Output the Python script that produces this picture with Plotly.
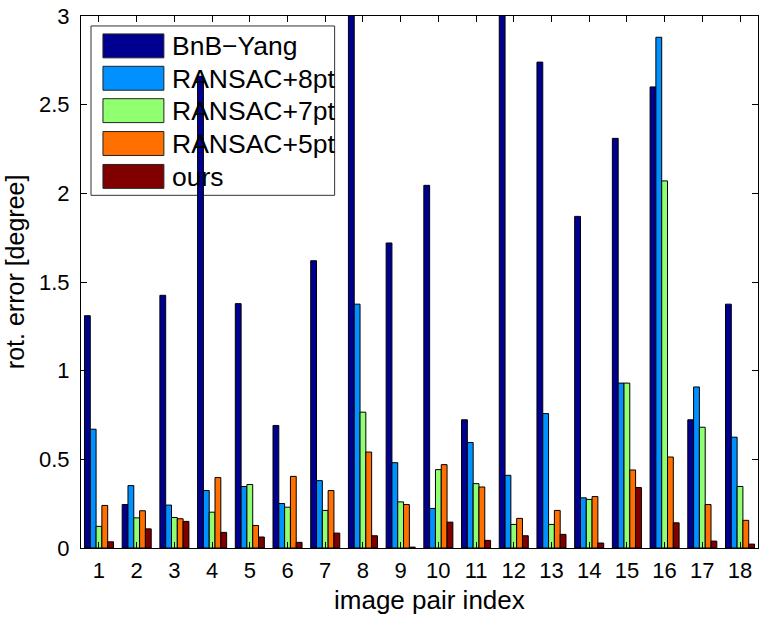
import plotly.graph_objects as go

pairs = list(range(1, 19))
series_names = ["BnB\u2212Yang", "RANSAC+8pt", "RANSAC+7pt", "RANSAC+5pt", "ours"]
bnb_yang = [1.31, 0.245, 1.425, 2.66, 1.378, 0.691, 1.62, 3.6, 1.72, 2.045, 0.723, 3.6, 2.74, 1.87, 2.31, 2.60, 0.723, 1.375]
ransac_8pt = [0.67, 0.352, 0.242, 0.324, 0.347, 0.251, 0.38, 1.375, 0.481, 0.223, 0.595, 0.41, 0.758, 0.283, 0.93, 2.88, 0.908, 0.625]
ransac_7pt = [0.122, 0.17, 0.172, 0.202, 0.358, 0.23, 0.212, 0.766, 0.26, 0.442, 0.363, 0.133, 0.133, 0.274, 0.93, 2.07, 0.681, 0.347]
ransac_5pt = [0.24, 0.21, 0.165, 0.397, 0.127, 0.404, 0.324, 0.541, 0.245, 0.47, 0.344, 0.167, 0.212, 0.29, 0.44, 0.513, 0.245, 0.156]
ours = [0.035, 0.108, 0.15, 0.088, 0.062, 0.032, 0.084, 0.069, 0.005, 0.146, 0.043, 0.069, 0.077, 0.028, 0.341, 0.142, 0.039, 0.022]
series_values = [bnb_yang, ransac_8pt, ransac_7pt, ransac_5pt, ours]
colors = ["#000090", "#0090FF", "#90FF70", "#FF7000", "#800000"]
y_ticks = [0, 0.5, 1, 1.5, 2, 2.5, 3]
y_tick_labels = ["0", "0.5", "1", "1.5", "2", "2.5", "3"]

W, H = 763, 617
L, R, T, B = 81, 759, 14, 548
FONT = "Liberation Sans, Arial, Helvetica, sans-serif"

fig = go.Figure()
for name, vals, col in zip(series_names, series_values, colors):
    fig.add_trace(go.Bar(x=pairs, y=vals, name=name, marker=dict(color=col, line=dict(color="black", width=1)),
                         showlegend=False))

def px(xp):
    return (xp - L) / (R - L)

def py(yp):
    return (B - yp) / (B - T)

shapes = []
annotations = []
# legend box
shapes.append(dict(type="rect", xref="paper", yref="paper", x0=px(91), x1=px(335), y0=py(194), y1=py(24),
                   fillcolor="white", line=dict(color="#333333", width=1), layer="below"))
row_tops = [32, 64.5, 97, 130, 163]
for name, col, top in zip(series_names, colors, row_tops):
    shapes.append(dict(type="rect", xref="paper", yref="paper", x0=px(103), x1=px(164), y0=py(top + 24), y1=py(top),
                       fillcolor=col, line=dict(color="#222222", width=1), layer="below"))
    annotations.append(dict(text=name, xref="paper", yref="paper", x=px(170), y=py(top + 12.5),
                            xanchor="left", yanchor="middle", showarrow=False,
                            font=dict(family=FONT, size=26.5, color="black")))

annotations.append(dict(text="image pair index", xref="paper", yref="paper", x=px(430), y=py(600),
                        xanchor="center", yanchor="middle", showarrow=False,
                        font=dict(family=FONT, size=26, color="black")))
annotations.append(dict(text="rot. error [degree]", xref="paper", yref="paper", x=px(15), y=py(271),
                        xanchor="center", yanchor="middle", showarrow=False, textangle=-90,
                        font=dict(family=FONT, size=25, color="black")))

fig.update_layout(
    width=W, height=H,
    margin=dict(l=L, r=W - R, t=T, b=H - B, pad=0),
    plot_bgcolor="white", paper_bgcolor="white",
    barmode="group", bargap=0.23, bargroupgap=0,
    font=dict(family=FONT, size=22, color="black"),
    shapes=shapes, annotations=annotations,
    xaxis=dict(range=[0.523, 18.477], tickmode="array", tickvals=pairs, ticktext=[str(p) for p in pairs],
               ticks="inside", ticklen=6, tickcolor="black", showline=True, linecolor="black", linewidth=1,
               mirror="ticks", showgrid=False, zeroline=False, ticklabelstandoff=3,
               tickfont=dict(family=FONT, size=22, color="black")),
    yaxis=dict(range=[0, 3], tickmode="array", tickvals=y_ticks, ticktext=y_tick_labels,
               ticks="inside", ticklen=6, tickcolor="black", showline=True, linecolor="black", linewidth=1,
               mirror="ticks", showgrid=False, zeroline=False, ticklabelstandoff=6,
               tickfont=dict(family=FONT, size=22, color="black")),
)

fig.write_html("out.html")
